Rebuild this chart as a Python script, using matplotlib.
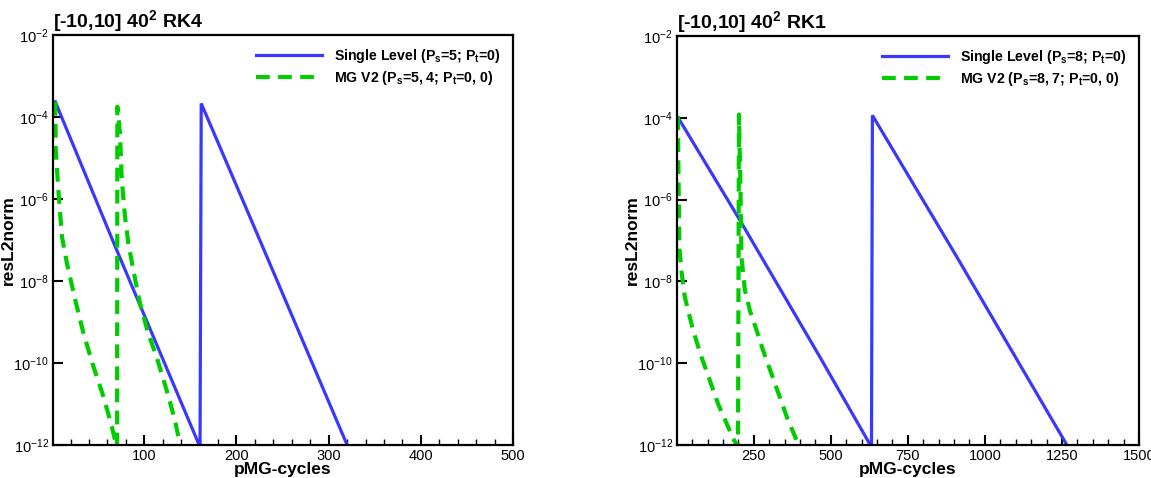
import numpy as np
import matplotlib
matplotlib.use("Agg")
import matplotlib.pyplot as plt
from matplotlib.ticker import FixedLocator, NullFormatter, LogFormatterSciNotation

plt.rcParams["font.family"] = ["Liberation Sans", "DejaVu Sans"]
plt.rcParams["mathtext.fontset"] = "custom"
plt.rcParams["mathtext.rm"] = "Liberation Sans"
plt.rcParams["mathtext.bf"] = "Liberation Sans:bold"
plt.rcParams["mathtext.default"] = "regular"

BLUE = "#3838ff"
GREEN = "#00cc00"

# ---- RK4 panel (log10 of resL2norm) ----
rk4_single_x = [3.5, 70, 160.5, 161.8, 221.5, 321]
rk4_single_log = [-3.63, -7.24, -12.05, -3.67, -6.8, -12.05]

rk4_mg_x = [3.5, 4.0, 6.8, 10.7, 16.1, 25.1, 34.1, 44.9, 55.7, 64.8, 68.3, 70.5,
            70.8, 73.7, 75.6, 79.1, 82.7, 88.1, 95.3, 104.3, 113.4, 124.2, 133.2, 137.8, 139.5]
rk4_mg_log = [-3.63, -4.8, -5.78, -6.92, -7.57, -8.46, -9.28, -10.09, -10.82, -11.55, -11.88, -12.05,
              -3.75, -4.4, -5.54, -6.43, -7.08, -7.73, -8.54, -9.28, -9.85, -10.66, -11.39, -11.88, -12.05]

# ---- RK1 panel ----
rk1_single_x = [5, 204, 464, 632, 635, 908, 1238, 1270]
rk1_single_log = [-4.0, -6.49, -9.84, -12.05, -3.94, -7.39, -11.64, -12.05]

rk1_mg_x = [4, 6, 9, 15, 26, 53, 80, 107, 134, 167, 183, 199,
            202, 205, 207, 210, 221, 237, 259, 280, 307, 334, 361, 389, 398]
rk1_mg_log = [-3.96, -5.6, -7.2, -7.72, -8.37, -9.19, -9.84, -10.41, -10.99, -11.56, -11.84, -12.05,
              -3.92, -5.0, -5.76, -7.4, -8.2, -8.7, -9.19, -9.68, -10.25, -10.82, -11.39, -11.88, -12.05]

panels = [
    {
        "title": "[-10,10] 40$^2$ RK4",
        "single": (rk4_single_x, rk4_single_log),
        "mg": (rk4_mg_x, rk4_mg_log),
        "single_label": "Single Level (P$_s$=5; P$_t$=0)",
        "mg_label": "MG V2 (P$_s$=5, 4; P$_t$=0, 0)",
        "xlim": (1, 500),
        "major": [100, 200, 300, 400, 500],
        "minor": np.arange(20, 500, 20),
        "rect": [53 / 1151, 33 / 478, 460 / 1151, 410 / 478],
    },
    {
        "title": "[-10,10] 40$^2$ RK1",
        "single": (rk1_single_x, rk1_single_log),
        "mg": (rk1_mg_x, rk1_mg_log),
        "single_label": "Single Level (P$_s$=8; P$_t$=0)",
        "mg_label": "MG V2 (P$_s$=8, 7; P$_t$=0, 0)",
        "xlim": (1, 1500),
        "major": [250, 500, 750, 1000, 1250, 1500],
        "minor": np.arange(50, 1500, 50),
        "rect": [677 / 1151, 33 / 478, 462 / 1151, 409 / 478],
    },
]

fig = plt.figure(figsize=(11.51, 4.78), dpi=100)

for p in panels:
    ax = fig.add_axes(p["rect"])
    sx, sl = p["single"]
    mx, ml = p["mg"]
    ax.plot(sx, 10.0 ** np.array(sl), color=BLUE, lw=2.3,
            label=p["single_label"], solid_joinstyle="miter")
    ax.plot(mx, 10.0 ** np.array(ml), color=GREEN, lw=3.0, dashes=(3.3, 2.0),
            label=p["mg_label"])
    ax.set_yscale("log")
    ax.set_ylim(1e-12, 1e-2)
    ax.set_xlim(*p["xlim"])

    ax.yaxis.set_major_locator(FixedLocator([1e-12, 1e-10, 1e-8, 1e-6, 1e-4, 1e-2]))
    ax.yaxis.set_major_formatter(LogFormatterSciNotation())
    ax.yaxis.set_minor_locator(FixedLocator([]))
    ax.yaxis.set_minor_formatter(NullFormatter())
    ax.xaxis.set_major_locator(FixedLocator(p["major"]))
    ax.xaxis.set_minor_locator(FixedLocator(p["minor"]))

    ax.tick_params(axis="both", which="major", direction="in", length=7, width=1.5,
                   labelsize=10.5, pad=3)
    ax.tick_params(axis="x", which="minor", direction="in", length=4, width=1.0)
    for s in ax.spines.values():
        s.set_linewidth(1.6)

    ax.set_xlabel("pMG-cycles", fontsize=12.5, fontweight="bold", labelpad=-1)
    ax.set_ylabel("resL2norm", fontsize=12.5, fontweight="bold")
    ax.yaxis.set_label_coords(-0.08, 0.5)
    ax.set_title(p["title"], loc="left", fontsize=14, fontweight="bold", pad=6)

    leg = ax.legend(loc="upper right", frameon=False, handlelength=4.6,
                    prop={"weight": "bold", "size": 10.2}, borderaxespad=0.45,
                    labelspacing=0.3, handletextpad=0.9)

fig.savefig("out.png", dpi=100)
